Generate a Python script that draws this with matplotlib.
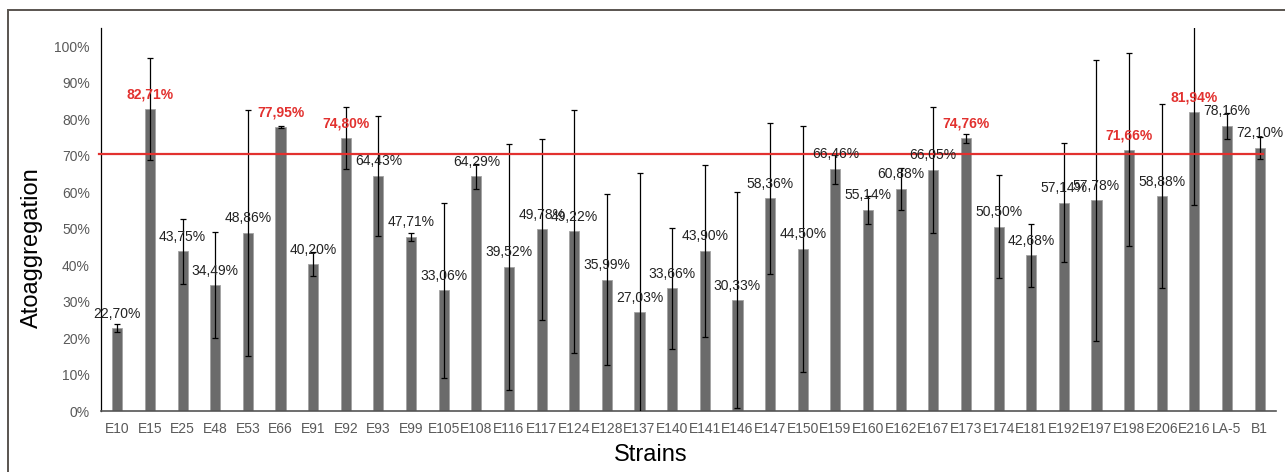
import matplotlib.pyplot as plt
from matplotlib.patches import Rectangle
import numpy as np

plt.rcParams['font.family'] = ['Liberation Sans', 'DejaVu Sans']

# strains, mean autoaggregation (%) and error (+/-, %)
strains = ['E10', 'E15', 'E25', 'E48', 'E53', 'E66', 'E91', 'E92', 'E93', 'E99',
           'E105', 'E108', 'E116', 'E117', 'E124', 'E128', 'E137', 'E140', 'E141',
           'E146', 'E147', 'E150', 'E159', 'E160', 'E162', 'E167', 'E173', 'E174',
           'E181', 'E192', 'E197', 'E198', 'E206', 'E216', 'LA-5', 'B1']
values = [22.70, 82.71, 43.75, 34.49, 48.86, 77.95, 40.20, 74.80, 64.43, 47.71,
          33.06, 64.29, 39.52, 49.78, 49.22, 35.99, 27.03, 33.66, 43.90,
          30.33, 58.36, 44.50, 66.46, 55.14, 60.88, 66.05, 74.76, 50.50,
          42.68, 57.14, 57.78, 71.66, 58.88, 81.94, 78.16, 72.10]
errors = [1.1, 14.0, 8.9, 14.5, 33.7, 0.3, 3.3, 8.5, 16.5, 1.1,
          24.0, 3.4, 33.7, 24.9, 33.2, 23.5, 38.2, 16.6, 23.5,
          29.6, 20.7, 33.7, 4.1, 3.9, 5.8, 17.2, 1.3, 14.1,
          8.6, 16.2, 38.5, 26.5, 25.2, 25.5, 3.6, 3.0]
# strains above the threshold get a bold red label
highlight = ['E15', 'E66', 'E92', 'E173', 'E198', 'E216']
threshold = 70.5

fig = plt.figure(figsize=(12.85, 4.72), dpi=100)
ax = fig.add_axes([0.0786, 0.1292, 0.9144, 0.8115])

x = np.arange(len(strains))
ax.bar(x, values, width=0.31, color='#6b6b6b', edgecolor='#a3a3a3', linewidth=0.6, zorder=2)
ax.errorbar(x, values, yerr=errors, fmt='none', ecolor='black', elinewidth=0.9,
            capsize=2.2, capthick=0.9, zorder=3)

# threshold line
ax.plot([-0.56, len(strains) - 0.9], [threshold, threshold], color='#e2312f',
        linewidth=1.6, zorder=4, clip_on=False)

for xi, s, v in zip(x, strains, values):
    lab = ('%.2f%%' % v).replace('.', ',')
    if s in highlight:
        ax.annotate(lab, (xi, v), xytext=(0, 10.5), textcoords='offset points',
                    ha='center', va='center', fontsize=10, color='#e2312f',
                    fontweight='bold', zorder=5)
    else:
        ax.annotate(lab, (xi, v), xytext=(0, 10.5), textcoords='offset points',
                    ha='center', va='center', fontsize=10, color='#222222', zorder=5)

ax.set_xlim(-0.5, len(strains) - 0.5)
ax.set_ylim(0, 105)
ax.set_yticks(np.arange(0, 101, 10))
ax.set_yticklabels(['%d%%' % t for t in range(0, 101, 10)])
ax.set_xticks(x)
ax.set_xticklabels(strains)
ax.tick_params(axis='both', length=0, labelsize=10, labelcolor='#595959')
ax.tick_params(axis='x', pad=8)
ax.tick_params(axis='y', pad=8)

ax.spines['top'].set_visible(False)
ax.spines['right'].set_visible(False)
ax.spines['left'].set_color('black')
ax.spines['left'].set_linewidth(0.9)
ax.spines['bottom'].set_color('#555555')
ax.spines['bottom'].set_linewidth(1.2)

ax.set_ylabel('Atoaggregation', fontsize=17, va='center')
ax.yaxis.set_label_coords(-0.059, 0.4256)
ax.set_xlabel('Strains', fontsize=17, va='center')
ax.xaxis.set_label_coords(0.468, -0.115)

# outer frame (only left and top edges visible)
fig.patches.append(Rectangle((8 / 1285, -0.2), 1.2, 1 - 10 / 472 + 0.2,
                             transform=fig.transFigure, fill=False,
                             edgecolor='#59544f', linewidth=1.4))

fig.savefig('out.png', dpi=100)
